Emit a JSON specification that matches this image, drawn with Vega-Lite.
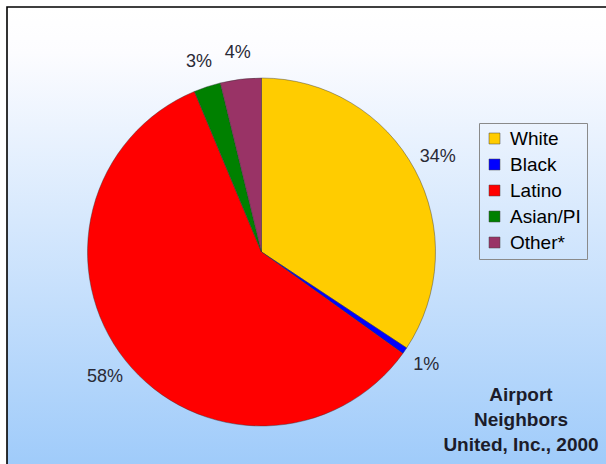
{
  "$schema": "https://vega.github.io/schema/vega-lite/v6.json",
  "width": 603,
  "height": 460,
  "autosize": {"type": "none"},
  "padding": {"left": 7, "top": 7, "right": 0, "bottom": 0},
  "background": "#ffffff",
  "view": {
    "stroke": "#000000",
    "strokeWidth": 1.6,
    "fill": {
      "gradient": "linear",
      "x1": 0, "y1": 0, "x2": 0, "y2": 1,
      "stops": [
        {"offset": 0, "color": "#ffffff"},
        {"offset": 0.1, "color": "#fcfcff"},
        {"offset": 1, "color": "#9fcbfa"}
      ]
    }
  },
  "data": {
    "values": [
      {"group": "White", "value": 34.3, "label": "34%", "order": 1},
      {"group": "Black", "value": 0.6, "label": "1%", "order": 2},
      {"group": "Latino", "value": 58.8, "label": "58%", "order": 3},
      {"group": "Asian/PI", "value": 2.5, "label": "3%", "order": 4},
      {"group": "Other*", "value": 3.8, "label": "4%", "order": 5}
    ]
  },
  "title": {
    "text": ["Airport", "Neighbors", "United, Inc., 2000"],
    "orient": "bottom",
    "anchor": "end",
    "align": "center",
    "frame": "group",
    "dx": -89,
    "offset": -81,
    "font": "Liberation Sans",
    "fontSize": 19,
    "fontWeight": "bold",
    "color": "#1c1c2a",
    "lineHeight": 25
  },
  "encoding": {
    "theta": {"field": "value", "type": "quantitative", "stack": true},
    "order": {"field": "order", "type": "quantitative"}
  },
  "layer": [
    {
      "mark": {"type": "arc", "outerRadius": 174, "xOffset": -47, "yOffset": 15, "stroke": "#333333", "strokeWidth": 0.6, "strokeOpacity": 0.7},
      "encoding": {
        "color": {
          "field": "group",
          "type": "nominal",
          "sort": ["White", "Black", "Latino", "Asian/PI", "Other*"],
          "scale": {
            "domain": ["White", "Black", "Latino", "Asian/PI", "Other*"],
            "range": ["#ffcc00", "#0000ff", "#ff0000", "#008000", "#993366"]
          },
          "legend": {
            "title": null,
            "orient": "none",
            "legendX": 472,
            "legendY": 116,
            "padding": 6,
            "strokeColor": "#8a8a8a",
            "symbolType": "square",
            "symbolSize": 121,
            "symbolStrokeColor": "#444444",
            "symbolStrokeWidth": 0.5,
            "labelFont": "Liberation Sans",
            "labelFontSize": 19,
            "labelColor": "#000000",
            "labelOffset": 6,
            "rowPadding": 6
          }
        }
      }
    },
    {
      "mark": {"type": "text", "radius": 200, "xOffset": -47, "yOffset": 15, "font": "Liberation Sans", "fontSize": 18, "color": "#2a2a36"},
      "encoding": {
        "text": {"field": "label", "type": "nominal"}
      }
    }
  ]
}
